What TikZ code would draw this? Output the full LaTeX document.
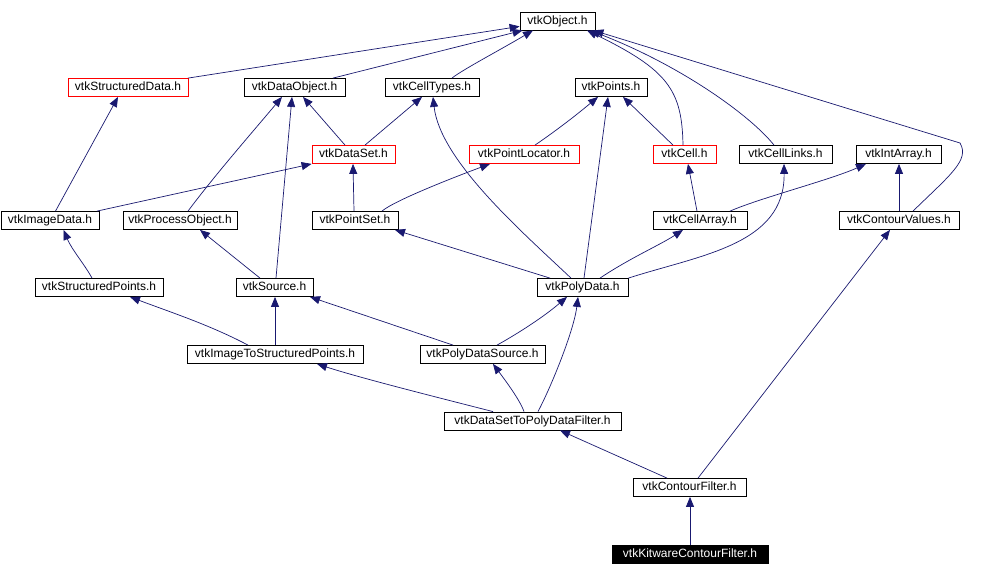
\documentclass[tikz,border=0pt]{standalone}
\usepackage{fontspec}
\setmainfont{Liberation Sans}
\usetikzlibrary{arrows.meta}
\definecolor{edgec}{HTML}{191970}
\begin{document}
\begin{tikzpicture}[x=1pt,y=-1pt,
  box/.style={draw=black,line width=0.8pt,fill=white,inner sep=0pt,minimum height=18pt,text height=8.8pt,text depth=2.2pt,font=\fontsize{12}{14}\selectfont},
  redbox/.style={box,draw=red},
  blackbox/.style={box,fill=black,text=white},
  edge/.style={draw=edgec,line width=0.7pt,-{Triangle[length=10pt,width=8pt]}}]
\useasboundingbox[fill=white] (0,0) rectangle (994,576);
% nodes
\node[box,minimum width=75pt] (obj) at (557.5,21) {vtkObject.h};
\node[redbox,minimum width=120pt] (sd) at (128,87.5) {vtkStructuredData.h};
\node[box,minimum width=101pt] (dobj) at (294.5,87.5) {vtkDataObject.h};
\node[box,minimum width=94pt] (ct) at (432,87.5) {vtkCellTypes.h};
\node[box,minimum width=72pt] (pts) at (611,87.5) {vtkPoints.h};
\node[redbox,minimum width=83pt] (ds) at (353.5,154.5) {vtkDataSet.h};
\node[redbox,minimum width=110pt] (pl) at (524,154.5) {vtkPointLocator.h};
\node[redbox,minimum width=63pt] (cell) at (684.5,154.5) {vtkCell.h};
\node[box,minimum width=93pt] (cl) at (785.5,154.5) {vtkCellLinks.h};
\node[box,minimum width=85pt] (ia) at (898.5,154.5) {vtkIntArray.h};
\node[box,minimum width=98pt] (id) at (50,220.5) {vtkImageData.h};
\node[box,minimum width=114pt] (po) at (180,220.5) {vtkProcessObject.h};
\node[box,minimum width=86pt] (ps) at (355,220.5) {vtkPointSet.h};
\node[box,minimum width=94pt] (ca) at (700,220.5) {vtkCellArray.h};
\node[box,minimum width=120pt] (cv) at (899,220.5) {vtkContourValues.h};
\node[box,minimum width=128pt] (sp) at (99,287.5) {vtkStructuredPoints.h};
\node[box,minimum width=77pt] (src) at (274.5,287.5) {vtkSource.h};
\node[box,minimum width=91pt] (pd) at (582.5,287.5) {vtkPolyData.h};
\node[box,minimum width=176pt] (itsp) at (275,354.5) {vtkImageToStructuredPoints.h};
\node[box,minimum width=125pt] (pds) at (482.5,354.5) {vtkPolyDataSource.h};
\node[box,minimum width=177pt] (dsf) at (532.5,421) {vtkDataSetToPolyDataFilter.h};
\node[box,minimum width=113pt] (cf) at (689.5,487.5) {vtkContourFilter.h};
\node[blackbox,minimum width=156pt] (kcf) at (690,554) {vtkKitwareContourFilter.h};
% edges
\draw[edge] ([xshift=60pt]sd.north) -- ([yshift=4pt]obj.south west);
\draw[edge] ([xshift=38.5pt]dobj.north) -- ([xshift=3pt]obj.south west);
\draw[edge] ([xshift=20pt]ct.north) .. controls (462,70) and (500,50) .. ([xshift=-24.5pt]obj.south);
\draw[edge] ([xshift=-1.5pt]cell.north) .. controls (682,90) and (668,70) .. ([xshift=29.5pt]obj.south);
\draw[edge] ([xshift=-11.5pt]cl.north) .. controls (750,115) and (680,65) .. ([xshift=32.5pt]obj.south);
\draw[edge] ([xshift=14pt]cv.north) .. controls (950,175) and (970,160) .. (960,143) -- ([xshift=-2pt]obj.south east);
\draw[edge] ([xshift=-8.5pt]ds.north) -- ([xshift=8.5pt]dobj.south);
\draw[edge] ([xshift=11.5pt]ds.north) -- ([xshift=-10pt]ct.south);
\draw[edge] ([xshift=8pt]po.north) .. controls (215,175) and (250,135) .. ([xshift=-12.5pt]dobj.south);
\draw[edge] ([xshift=1.5pt]src.north) -- ([xshift=-2.5pt]dobj.south);
\draw[edge] ([xshift=11pt]pl.north) .. controls (560,128) and (580,112) .. ([xshift=-13pt]pts.south);
\draw[edge] ([xshift=-11.5pt]cell.north) -- ([xshift=12pt]pts.south);
\draw[edge] ([xshift=1.5pt]pd.north) -- ([xshift=-3pt]pts.south);
\draw[edge] ([xshift=-11.5pt]pd.north) .. controls (520,230) and (440,160) .. ([xshift=1pt]ct.south);
\draw[edge] ([xshift=5.5pt]id.north) -- ([xshift=-10pt]sd.south);
\draw[edge] ([xshift=47pt]id.north) -- (ds.south west);
\draw[edge] ([xshift=-1pt]ps.north) -- ([xshift=-0.5pt]ds.south);
\draw[edge] ([xshift=27pt]ps.north) .. controls (395,200) and (460,175) .. ([xshift=-34pt]pl.south);
\draw[edge] ([xshift=-3pt]ca.north) -- ([xshift=3.5pt]cell.south);
\draw[edge] ([xshift=30pt]ca.north) .. controls (760,198) and (830,180) .. ([xshift=-32.5pt]ia.south);
\draw[edge] (cv.north) -- ([xshift=0.5pt]ia.south);
\draw[edge] ([xshift=-32.5pt]pd.north) -- ([xshift=40pt]ps.south);
\draw[edge] ([xshift=17.5pt]pd.north) .. controls (630,258) and (660,245) .. ([xshift=-17pt]ca.south);
\draw[edge] (pd.north east) .. controls (700,255) and (785,245) .. ([xshift=-1.5pt]cl.south);
\draw[edge] ([xshift=-7pt]sp.north) .. controls (85,265) and (72,250) .. ([xshift=13.5pt]id.south);
\draw[edge] ([xshift=-14.5pt]src.north) -- ([xshift=20pt]po.south);
\draw[edge] ([xshift=-27pt]itsp.north) .. controls (210,325) and (170,312) .. ([xshift=31pt]sp.south);
\draw[edge] (itsp.north) -- ([xshift=0.5pt]src.south);
\draw[edge] ([xshift=-29.5pt]pds.north) -- ([xshift=35.5pt]src.south);
\draw[edge] ([xshift=14.5pt]pds.north) .. controls (510,338) and (540,320) .. ([xshift=-15.5pt]pd.south);
\draw[edge] ([xshift=-39.5pt]dsf.north) .. controls (440,398) and (360,378) .. ([xshift=42pt]itsp.south);
\draw[edge] ([xshift=-8.5pt]dsf.north) .. controls (520,400) and (505,380) .. ([xshift=10.5pt]pds.south);
\draw[edge] ([xshift=5.5pt]dsf.north) .. controls (552,385) and (574,330) .. ([xshift=-4.5pt]pd.south);
\draw[edge] ([xshift=-22.5pt]cf.north) -- ([xshift=27.5pt]dsf.south);
\draw[edge] ([xshift=8.5pt]cf.north) -- ([xshift=-9pt]cv.south);
\draw[edge] (kcf.north) -- ([xshift=0.5pt]cf.south);
\end{tikzpicture}
\end{document}
